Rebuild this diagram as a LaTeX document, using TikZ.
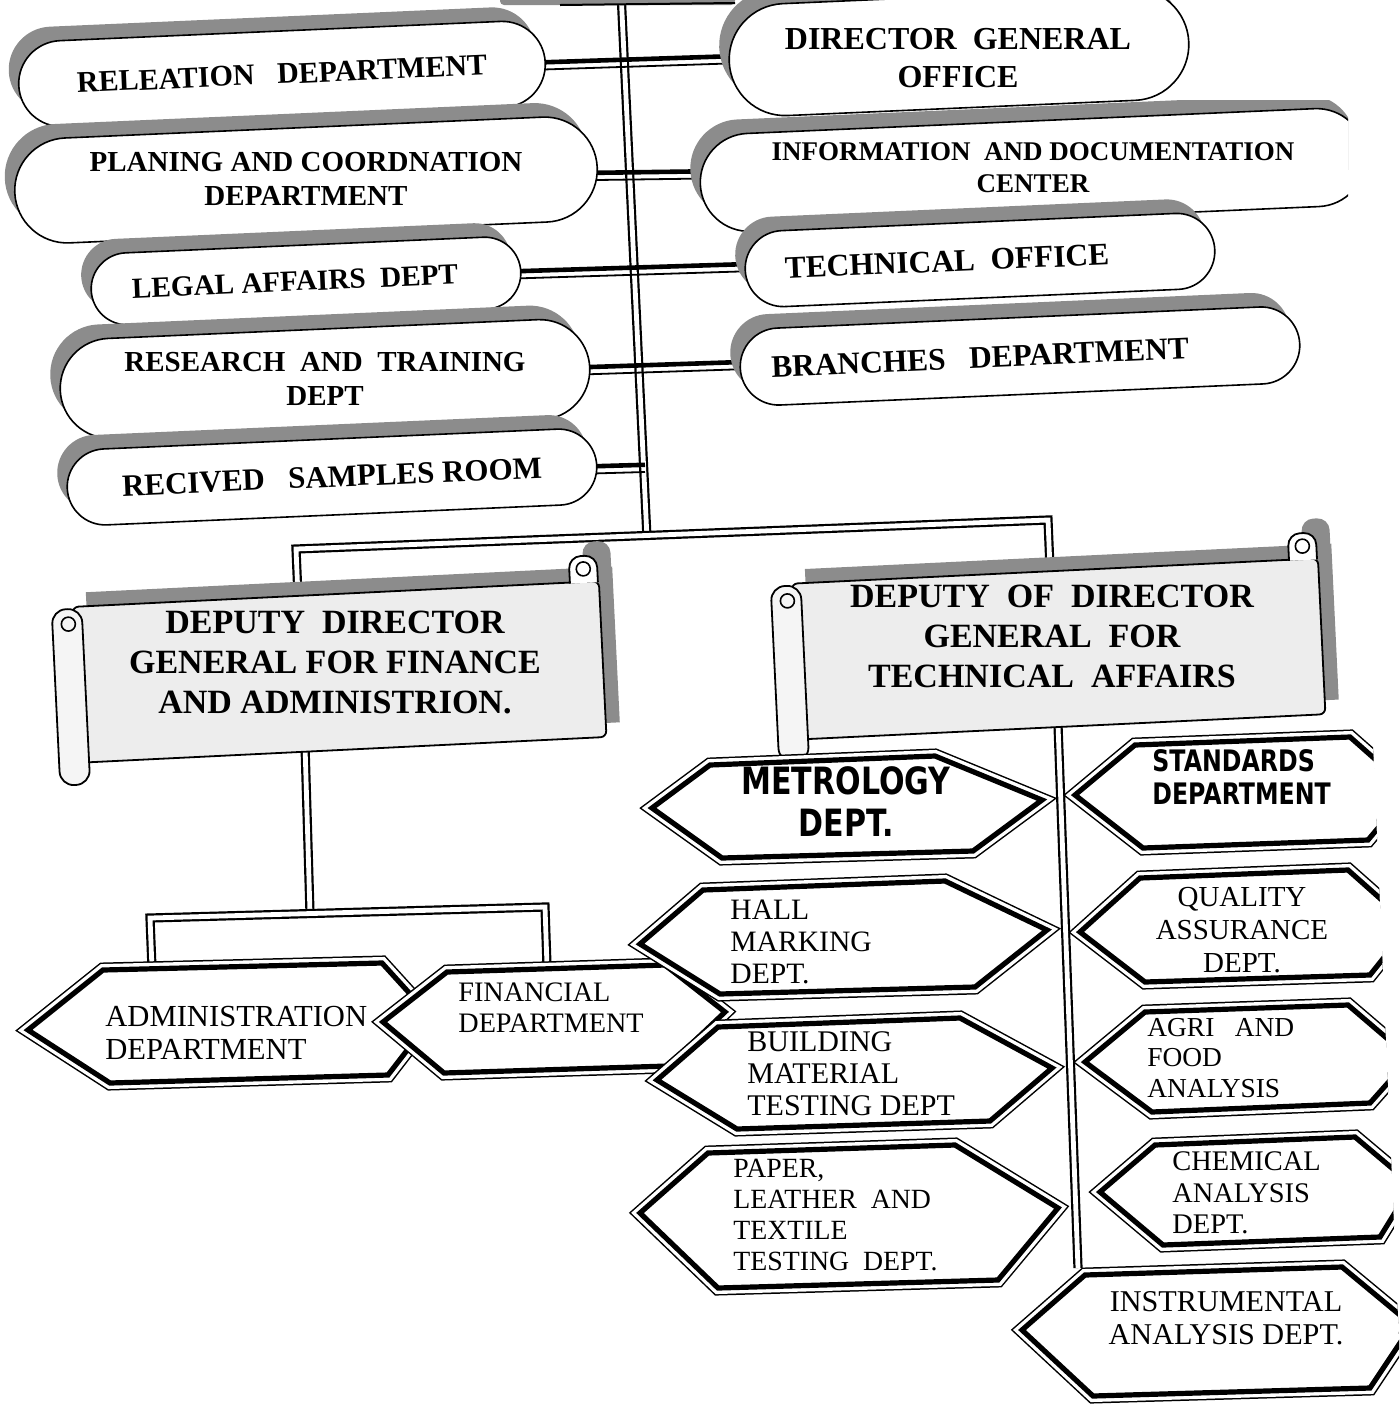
\documentclass[tikz,border=0pt]{standalone}
\usepackage{fontspec}
\setmainfont{Liberation Serif}
\newfontfamily\hexsans[FakeStretch=0.8]{DejaVu Sans}
\usetikzlibrary{shapes.misc,shadows,backgrounds}
\colorlet{shadowc}{black!45}
\newcommand\pf[2]{\fontsize{#1}{#2}\selectfont\bfseries}
\newcommand\rf[2]{\fontsize{#1}{#2}\selectfont}
\newcommand\hexbox[6]{%
  \draw[line width=7.5pt] (#1) -- (#2) -- (#3) -- (#4) -- (#5) -- (#6) -- cycle;
  \draw[white, line width=6pt] (#1) -- (#2) -- (#3) -- (#4) -- (#5) -- (#6) -- cycle;
  \fill[white] (#1) -- (#2) -- (#3) -- (#4) -- (#5) -- (#6) -- cycle;
  \draw[line width=2.6pt] (#1) -- (#2) -- (#3) -- (#4) -- (#5) -- (#6) -- cycle;}
\newcommand\scrollart[2]{%
\begin{scope}[shift={(#1)}, rotate=#2]
 \fill[shadowc] (-248,-92) rectangle (279,64);
 \fill[shadowc, rounded corners=6pt] (250,-118) rectangle (278,-80);
 \draw[line width=0.9pt, fill=black!7, rounded corners=3pt] (-262,-78) rectangle (265,78);
 \draw[line width=0.9pt, fill=white, rounded corners=6pt] (236,-77) -- (236,-104) -- (264,-104) -- (264,-77);
 \draw[line width=0.8pt] (250,-91) circle (7);
 \draw[line width=0.9pt, fill=black!4, rounded corners=7pt] (-283,-76) rectangle (-253,100);
 \draw[line width=0.8pt] (-267,-61) circle (7);
\end{scope}}
\newcommand\conn[2]{%
  \draw[cthick] ([yshift=1.6pt]#1) -- ([yshift=1.6pt]#2);
  \draw[cthin] ([yshift=-2pt]#1) -- ([yshift=-2pt]#2);}
\begin{document}
\begin{tikzpicture}[x=0.5pt, y=-0.5pt,
  dline/.style={line width=1.1pt, double=white, double distance=2.4pt},
  cthick/.style={line width=2.3pt},
  cthin/.style={line width=0.9pt},
  pill/.style={rounded rectangle, draw, line width=0.8pt, fill=white, align=center,
     rotate=2.5, inner sep=0pt,
     general shadow={fill=shadowc, shadow xshift=-5pt, shadow yshift=7pt}},
  ptext/.style={align=center, inner sep=0pt},
  hext/.style={anchor=west, align=left, inner sep=0pt},
  hexc/.style={align=center, inner sep=0pt},
  scrolltext/.style={align=center, inner sep=0pt, font=\pf{17}{20}}]
\useasboundingbox (0,0) rectangle (1399,1404);
\clip (0,0) rectangle (1399,1404);
% partial box at the top edge
\fill[shadowc, rounded corners=2pt] (500,-10) rectangle (735,5);
\draw[line width=1pt] (560,5) -- (735,3);
% ---------- pills, left side
\node[pill, minimum width=263.5pt, minimum height=43pt, font=\pf{15}{17}] (rel) at (282,74) {RELEATION\ \ \ DEPARTMENT};
\node[pill, minimum width=291.5pt, minimum height=52.5pt] (plan) at (306,180) {};
\node[ptext, font=\pf{14.5}{17.4}] (plant) at (306,179) {PLANING AND COORDNATION\\DEPARTMENT};
\node[pill, minimum width=215pt, minimum height=36pt, font=\pf{14.6}{17}] (legal) at (306,281) {LEGAL AFFAIRS\ \ DEPT\hspace*{11pt}};
\node[pill, minimum width=265pt, minimum height=50pt] (res) at (325,379) {};
\node[ptext, font=\pf{14.5}{17.4}] (rest) at (325,379) {RESEARCH\ \ AND\ \ TRAINING\\DEPT};
\node[pill, minimum width=265pt, minimum height=38pt, font=\pf{15.5}{17}] (rec) at (332,477) {RECIVED\ \ \ SAMPLES\ ROOM};
% ---------- pills, right side
\node[pill, minimum width=230pt, minimum height=56pt] (dgo) at (959,52) {};
\node[ptext, font=\pf{16}{19}] (dgot) at (958,58) {DIRECTOR\ \ GENERAL\\OFFICE};
\begin{scope}
\clip (600,100) rectangle (1348,240);
\node[pill, minimum width=333pt, minimum height=49pt] (info) at (1033,170) {};
\end{scope}
\node[ptext, font=\pf{13.5}{16}] (infot) at (1033,168) {INFORMATION\ \ AND DOCUMENTATION\\CENTER};
\node[pill, minimum width=235pt, minimum height=38pt, font=\pf{15.7}{17}] (tech) at (980,260) {TECHNICAL\ \ OFFICE\hspace*{33pt}};
\node[pill, minimum width=280pt, minimum height=38.5pt, font=\pf{15.7}{17}] (bra) at (1020,356) {BRANCHES\ \ \ DEPARTMENT\hspace*{40pt}};
% ---------- scrolls
\scrollart{338,672}{2.8}
\node[scrolltext] (dep1) at (335,662) {DEPUTY\ \ DIRECTOR\\GENERAL FOR FINANCE\\AND ADMINISTRION.};
\scrollart{1057,649}{2.75}
\node[scrolltext] (dep2) at (1052,636) {DEPUTY\ \ OF\ \ DIRECTOR\\GENERAL\ \ FOR\\TECHNICAL\ \ AFFAIRS};
% ---------- coordinates for connectors
\coordinate (ttop) at (621,-8);
\coordinate (tjoin) at (647,538);
\coordinate (trec) at (645,468);
\coordinate (s1top) at (298,596);
\coordinate (bl) at (296,549);
\coordinate (br) at (1048,520);
\coordinate (s2top) at (1050,568);
\coordinate (s1bot) at (305,745);
\coordinate (fj) at (310,913);
\coordinate (adtop) at (152,968);
\coordinate (adc) at (150,918);
\coordinate (fic) at (545,907);
\coordinate (fitop) at (547,966);
\coordinate (s2bot) at (1058,725);
\coordinate (tend) at (1078,1268);
% ---------- finance side hexagons
\hexbox{28,1030}{103,970}{382,963}{432,1018}{388,1075}{110,1083}
\node[hext, font=\rf{15.3}{16.5}] (adm) at (105,1033) {ADMINISTRATION\\DEPARTMENT};
\hexbox{383,1022}{447,972}{665,965}{725,1012}{668,1066}{444,1073}
\node[hext, font=\rf{14.1}{15.5}] (fin) at (458,1008) {FINANCIAL\\DEPARTMENT};
% ---------- technical left column
\hexbox{652,808}{710,765}{935,756}{1042,800}{973,851}{722,858}
\node[hexc, font=\hexsans\bfseries\fontsize{18.8}{21}\selectfont] (met) at (846,802) {METROLOGY\\DEPT.};
\hexbox{640,944}{703,890}{945,881}{1047,930}{975,987}{720,994}
\node[hext, font=\rf{14.8}{16}] (hall) at (730,942) {HALL\\MARKING\\DEPT.};
\hexbox{657,1080}{718,1027}{960,1018}{1052,1068}{990,1121}{737,1129}
\node[hext, font=\rf{15}{16}] (bld) at (747,1074) {BUILDING\\MATERIAL\\TESTING DEPT};
\hexbox{640,1213}{708,1153}{955,1145}{1058,1208}{998,1280}{718,1288}
\node[hext, font=\rf{13.9}{15.5}] (pap) at (733,1215) {PAPER,\\LEATHER\ \ AND\\TEXTILE\\TESTING\ \ DEPT.};
% ---------- technical right column
\begin{scope}
\clip (1000,700) -- (1371,700) -- (1399,1340) -- (1399,1404) -- (1000,1404) -- cycle;
\hexbox{1075,795}{1135,745}{1350,737}{1410,790}{1368,840}{1143,848}
\node[hext, font=\hexsans\bfseries\fontsize{14.8}{16.5}\selectfont] (std) at (1152,777) {STANDARDS\\DEPARTMENT};
\hexbox{1080,932}{1140,878}{1348,870}{1410,925}{1370,975}{1145,982}
\node[hexc, font=\rf{14.5}{16.3}] (qa) at (1242,930) {QUALITY\\ASSURANCE\\DEPT.};
\hexbox{1085,1062}{1145,1012}{1348,1005}{1410,1058}{1370,1103}{1152,1112}
\node[hext, font=\rf{13.7}{15.3}] (agri) at (1147,1058) {AGRI\ \ \ AND\\FOOD\\ANALYSIS};
\hexbox{1100,1192}{1155,1145}{1355,1137}{1412,1185}{1380,1237}{1163,1245}
\node[hext, font=\rf{14.2}{15.8}] (chem) at (1172,1193) {CHEMICAL\\ANALYSIS\\DEPT.};
\hexbox{1022,1330}{1085,1275}{1342,1267}{1412,1325}{1370,1388}{1093,1396}
\node[hexc, font=\rf{15.1}{16.5}] (inst) at (1226,1318) {INSTRUMENTAL\\ANALYSIS DEPT.};
\end{scope}
% ---------- connectors (behind the shapes)
\begin{pgfonlayer}{background}
\draw[dline] (ttop) -- (tjoin);
\draw[dline] (s1top) -- (bl) -- (br) -- (s2top);
\draw[dline] (s1bot) -- (fj);
\draw[dline] (adtop) -- (adc) -- (fic) -- (fitop);
\draw[dline] (s2bot) -- (tend);
\conn{rel.center}{dgo.center}
\conn{plan.center}{info.center}
\conn{legal.center}{tech.center}
\conn{res.center}{bra.center}
\conn{rec.center}{trec}
\end{pgfonlayer}
\end{tikzpicture}
\end{document}
